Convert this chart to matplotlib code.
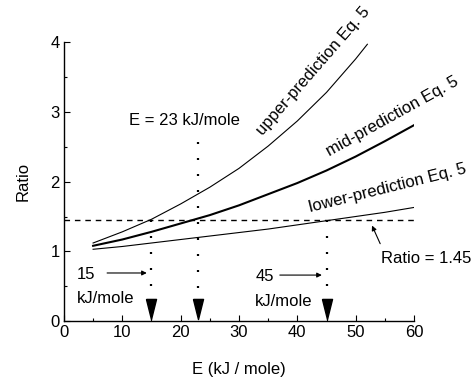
import matplotlib
matplotlib.use("Agg")
import matplotlib.pyplot as plt
from matplotlib.ticker import MultipleLocator

plt.rcParams["font.family"] = ["Liberation Sans", "DejaVu Sans"]

# values
energy = [5, 10, 15, 20, 25, 30, 35, 40, 45, 50, 55, 60]
upper_energy = [5, 10, 15, 20, 25, 30, 35, 40, 45, 50, 52]
upper_ratio = [1.12, 1.28, 1.46, 1.68, 1.92, 2.19, 2.51, 2.87, 3.28, 3.76, 3.97]
mid_ratio = [1.08, 1.17, 1.28, 1.40, 1.52, 1.66, 1.82, 1.98, 2.16, 2.36, 2.58, 2.81]
lower_ratio = [1.03, 1.07, 1.12, 1.17, 1.22, 1.27, 1.32, 1.38, 1.44, 1.50, 1.56, 1.63]

ratio_limit = 1.45
crossing_energy = [15, 23, 45]
dotted_top = [1.45, 2.57, 1.45]
dotted_bottom = [0.49, 0.31, 0.49]

FS = 12

fig = plt.figure(figsize=(4.77, 3.80), dpi=100)
ax = fig.add_axes([0.134, 0.155, 0.734, 0.734])

ax.plot(upper_energy, upper_ratio, color="black", lw=0.8)
ax.plot(energy, mid_ratio, color="black", lw=1.5)
ax.plot(energy, lower_ratio, color="black", lw=0.8)

ax.plot([0, 60], [ratio_limit, ratio_limit], color="black", lw=1.0,
        linestyle=(0, (4, 3.5)))

for e, top, bot in zip(crossing_energy, dotted_top, dotted_bottom):
    ax.plot([e, e], [top, bot], color="black", lw=1.6,
            linestyle=(0, (0.9, 6.3)), dash_capstyle="butt")

# tall downward triangles at the bottom
tri = [(-0.5, 1.0), (0.5, 1.0), (0.0, -1.0), (-0.5, 1.0)]
ax.plot(crossing_energy, [0.17] * 3, linestyle="none", marker=tri,
        markersize=14.5, color="black", clip_on=False)

ax.text(20.7, 2.87, "E = 23 kJ/mole", ha="center", va="center", fontsize=FS)
ax.text(42.7, 3.58, "upper-prediction Eq. 5", ha="center", va="center",
        rotation=49, fontsize=FS)
ax.text(56.2, 2.94, "mid-prediction Eq. 5", ha="center", va="center",
        rotation=29, fontsize=FS, clip_on=False)
ax.text(55.4, 1.90, "lower-prediction Eq. 5", ha="center", va="center",
        rotation=14, fontsize=FS, clip_on=False)
ax.text(62.0, 0.90, "Ratio = 1.45", ha="center", va="center", fontsize=FS)
ax.annotate("", xy=(52.8, 1.37), xytext=(54.2, 1.11),
            arrowprops=dict(arrowstyle="-|>", color="black", lw=0.8,
                            mutation_scale=7, shrinkA=0, shrinkB=0))

ax.text(2.2, 0.67, "15", ha="left", va="center", fontsize=FS)
ax.text(2.2, 0.32, "kJ/mole", ha="left", va="center", fontsize=FS)
ax.annotate("", xy=(14.2, 0.69), xytext=(7.4, 0.69),
            arrowprops=dict(arrowstyle="-|>", color="black", lw=0.8,
                            mutation_scale=7, shrinkA=0, shrinkB=0))
ax.text(32.8, 0.64, "45", ha="left", va="center", fontsize=FS)
ax.text(32.8, 0.28, "kJ/mole", ha="left", va="center", fontsize=FS)
ax.annotate("", xy=(44.2, 0.66), xytext=(37.0, 0.66),
            arrowprops=dict(arrowstyle="-|>", color="black", lw=0.8,
                            mutation_scale=7, shrinkA=0, shrinkB=0))

ax.set_xlim(0, 60)
ax.set_ylim(0, 4)
ax.xaxis.set_major_locator(MultipleLocator(10))
ax.xaxis.set_minor_locator(MultipleLocator(5))
ax.yaxis.set_major_locator(MultipleLocator(1))
ax.yaxis.set_minor_locator(MultipleLocator(0.5))
ax.tick_params(which="both", direction="in", labelsize=FS, width=0.8)
ax.tick_params(which="major", length=4, pad=3)
ax.tick_params(which="minor", length=2.5)
ax.spines["top"].set_visible(False)
ax.spines["right"].set_visible(False)
ax.spines["left"].set_linewidth(1.0)
ax.spines["bottom"].set_linewidth(1.0)

ax.set_xlabel("E (kJ / mole)", fontsize=FS, labelpad=16)
ax.set_ylabel("Ratio", fontsize=FS, labelpad=14)

fig.savefig("out.png", dpi=100)
